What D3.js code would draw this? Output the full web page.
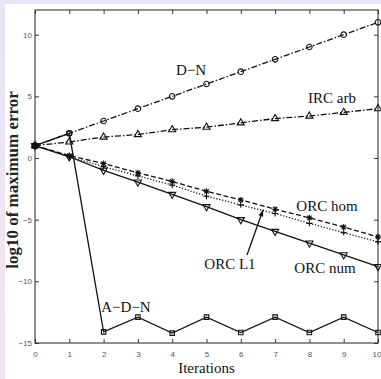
<!DOCTYPE html>
<html>
<head>
<meta charset="utf-8">
<script src="https://cdn.jsdelivr.net/npm/d3@7"></script>
<style>
  body { margin: 0; background: #fff; }
  svg { display: block; }
</style>
</head>
<body>
<div id="vis"></div>
<script>
// values (log10 of max error per iteration)
const iterations = [0, 1, 2, 3, 4, 5, 6, 7, 8, 9, 10]
const dn     = [1, 2, 3, 4, 5, 6, 7, 8, 9, 10, 11]
const ircArb = [1, 1.3, 1.7, 1.9, 2.3, 2.5, 2.85, 3.2, 3.4, 3.7, 4.0]
const orcHom = [1, 0.2, -0.45, -1.2, -1.9, -2.7, -3.4, -4.15, -4.85, -5.6, -6.4]
const orcL1  = [1, 0.1, -0.7, -1.45, -2.2, -3.1, -3.8, -4.5, -5.3, -6.05, -6.8]
const orcNum = [1, 0.1, -1.0, -1.95, -2.95, -3.95, -5.0, -5.95, -6.9, -7.85, -8.8]
const adn    = [1, 2, -14.1, -12.9, -14.2, -12.9, -14.15, -12.9, -14.15, -12.9, -14.15]
const xTicks = [0, 1, 2, 3, 4, 5, 6, 7, 8, 9, 10]
const yTicks = [-15, -10, -5, 0, 5, 10]

const W = 381, H = 379
const margin = { left: 35, top: 10, right: 3, bottom: 36 }

const svg = d3.select('#vis').append('svg')
  .attr('width', W).attr('height', H)

// page background: lavender band on top, tinted strip on the left
const grad = svg.append('defs').append('linearGradient')
  .attr('id', 'side').attr('x1', 0).attr('x2', 0).attr('y1', 0).attr('y2', 1)
grad.append('stop').attr('offset', '0%').attr('stop-color', '#e6e4f8')
grad.append('stop').attr('offset', '100%').attr('stop-color', '#f4e4f2')
svg.append('rect').attr('width', W).attr('height', H).attr('fill', 'url(#side)')
svg.append('rect').attr('x', 0).attr('y', 0).attr('width', W).attr('height', 4).attr('fill', '#e6e4f8')
svg.append('rect').attr('x', 5).attr('y', 4).attr('width', W - 5).attr('height', H - 4).attr('fill', '#fff')

const x = d3.scaleLinear().domain([0, 10]).range([margin.left, W - margin.right])
const y = d3.scaleLinear().domain([-15, 12]).range([H - margin.bottom, margin.top])

const g = svg.append('g')

// frame
g.append('rect')
  .attr('x', x(0)).attr('y', y(12))
  .attr('width', x(10) - x(0)).attr('height', y(-15) - y(12))
  .attr('fill', 'none').attr('stroke', '#222').attr('stroke-width', 1)

const tickFont = 'Liberation Sans, Arial, sans-serif'

// bottom axis, ticks pointing in
const xb = g.append('g').attr('transform', `translate(0,${y(-15)})`)
  .call(d3.axisBottom(x).tickValues(xTicks).tickSize(-4).tickPadding(8).tickSizeOuter(0))
const xt = g.append('g').attr('transform', `translate(0,${y(12)})`)
  .call(d3.axisTop(x).tickValues(xTicks).tickSize(-4).tickFormat('').tickSizeOuter(0))
const yl = g.append('g').attr('transform', `translate(${x(0)},0)`)
  .call(d3.axisLeft(y).tickValues(yTicks).tickSize(-4).tickPadding(3).tickSizeOuter(0)
    .tickFormat(d => d < 0 ? '\u2212' + Math.abs(d) : d))
const yr = g.append('g').attr('transform', `translate(${x(10)},0)`)
  .call(d3.axisRight(y).tickValues(yTicks).tickSize(-4).tickFormat('').tickSizeOuter(0))

;[xb, xt, yl, yr].forEach(a => {
  a.select('.domain').remove()
  a.selectAll('line').attr('stroke', '#333')
  a.selectAll('text').attr('font-family', tickFont).attr('font-size', 8).attr('fill', '#555')
})
// last x label sits right at the page edge
xb.selectAll('text').filter(d => d === 10).attr('text-anchor', 'end').attr('dx', 3)

// series
const series = [
  { name: 'D-N', vals: dn, dash: '6,2,1.5,2', marker: 'circle' },
  { name: 'IRC arb', vals: ircArb, dash: '6,2,1.5,2', marker: 'triangle' },
  { name: 'ORC hom', vals: orcHom, dash: '5,2.5', marker: 'star' },
  { name: 'ORC L1', vals: orcL1, dash: '1.2,1.8', marker: 'plus' },
  { name: 'ORC num', vals: orcNum, dash: null, marker: 'down' },
  { name: 'A-D-N', vals: adn, dash: null, marker: 'square' }
]

const line = d3.line().x((d, i) => x(iterations[i])).y(d => y(d))

series.forEach(s => {
  g.append('path')
    .datum(s.vals)
    .attr('d', line)
    .attr('fill', 'none')
    .attr('stroke', '#111')
    .attr('stroke-width', 1.3)
    .attr('stroke-dasharray', s.dash)

  const m = g.append('g').selectAll('path').data(s.vals).enter().append('path')
    .attr('transform', (d, i) => `translate(${x(iterations[i])},${y(d)})`)
    .attr('fill', 'none').attr('stroke', '#111').attr('stroke-width', 1.1)

  if (s.marker === 'circle') m.attr('d', d3.symbol().type(d3.symbolCircle).size(24)())
  if (s.marker === 'square') m.attr('d', d3.symbol().type(d3.symbolSquare).size(20)())
  if (s.marker === 'triangle') m.attr('d', d3.symbol().type(d3.symbolTriangle).size(22)())
  if (s.marker === 'down') m.attr('d', d3.symbol().type(d3.symbolTriangle).size(22)())
    .attr('transform', (d, i) => `translate(${x(iterations[i])},${y(d)}) rotate(180)`)
  if (s.marker === 'plus') m.attr('d', 'M-3,0H3M0,-3V3')
  if (s.marker === 'star') m.attr('d', 'M-3,0H3M0,-3V3M-2.2,-2.2L2.2,2.2M-2.2,2.2L2.2,-2.2')
})

// merged start point
g.append('circle').attr('cx', x(0)).attr('cy', y(1)).attr('r', 3.5).attr('fill', '#111')

// curve labels
const serif = 'Liberation Serif, Times New Roman, serif'
const labels = [
  { t: 'D\u2212N', cx: 191, b: 75 },
  { t: 'IRC arb', cx: 332, b: 103 },
  { t: 'ORC hom', cx: 327, b: 211 },
  { t: 'ORC L1', cx: 230, b: 269 },
  { t: 'ORC num', cx: 325, b: 273 },
  { t: 'A\u2212D\u2212N', cx: 126, b: 312 }
]
labels.forEach(l => {
  g.append('text').attr('x', l.cx).attr('y', l.b)
    .attr('text-anchor', 'middle')
    .attr('font-family', serif).attr('font-size', 15).attr('fill', '#111')
    .text(l.t)
})

// arrow from the ORC L1 label to its curve
const ax0 = 247, ay0 = 255
const ax1 = x(6.65), ay1 = y(-4.2)
g.append('line').attr('x1', ax0).attr('y1', ay0).attr('x2', ax1).attr('y2', ay1)
  .attr('stroke', '#111').attr('stroke-width', 1.3)
const ang = Math.atan2(ay1 - ay0, ax1 - ax0)
const hl = 7, hw = 0.35
g.append('path')
  .attr('d', `M${ax1},${ay1}L${ax1 - hl * Math.cos(ang - hw)},${ay1 - hl * Math.sin(ang - hw)}L${ax1 - hl * Math.cos(ang + hw)},${ay1 - hl * Math.sin(ang + hw)}Z`)
  .attr('fill', '#111')

// axis titles
svg.append('text')
  .attr('x', (x(0) + x(10)) / 2).attr('y', 373)
  .attr('text-anchor', 'middle')
  .attr('font-family', serif).attr('font-size', 15).attr('fill', '#111')
  .text('Iterations')

svg.append('text')
  .attr('transform', `translate(18,${180}) rotate(-90)`)
  .attr('text-anchor', 'middle')
  .attr('font-family', serif).attr('font-size', 17).attr('font-weight', 'bold').attr('fill', '#222')
  .text('log10 of maximum error')
</script>
</body>
</html>
